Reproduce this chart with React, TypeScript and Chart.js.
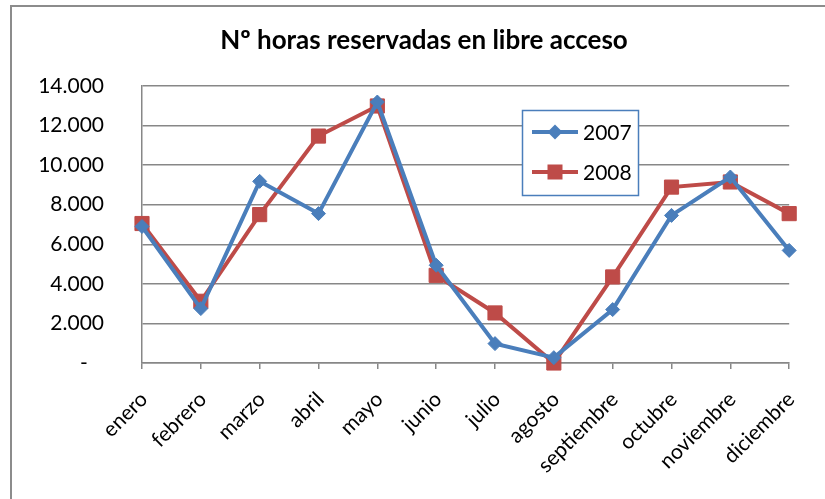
import React, { useEffect, useRef } from "react";
import { Chart, registerables } from "chart.js";

Chart.register(...registerables);

const TITLE = "Nº horas reservadas en libre acceso";
const MONTHS = ["enero", "febrero", "marzo", "abril", "mayo", "junio", "julio", "agosto", "septiembre", "octubre", "noviembre", "diciembre"];
const SERIES_LABELS = ["2007", "2008"];
const SERIES_2007 = [6900, 2750, 9180, 7550, 13190, 4940, 980, 270, 2700, 7460, 9400, 5690];
const SERIES_2008 = [7050, 3120, 7500, 11470, 12990, 4430, 2530, 0, 4350, 8890, 9150, 7550];
const Y_TICK_VALUES = [0, 2000, 4000, 6000, 8000, 10000, 12000, 14000];
const Y_TICK_LABELS = ["-   ", "2.000", "4.000", "6.000", "8.000", "10.000", "12.000", "14.000"];

const BLUE = "#4A7EBB";
const RED = "#BE4B48";
const GRID = "#878787";
const FONT = "Lato, 'Noto Sans', sans-serif";

const titlePlugin = {
  id: "centeredTitle",
  afterDraw(chart: any) {
    const ctx = chart.ctx as CanvasRenderingContext2D;
    ctx.save();
    ctx.fillStyle = "#000";
    ctx.font = `bold 26px ${FONT}`;
    ctx.textAlign = "center";
    ctx.textBaseline = "alphabetic";
    ctx.fillText(TITLE, 424, 49);
    ctx.restore();
  },
};

const insideLegend = {
  id: "insideLegend",
  afterDraw(chart: any) {
    const ctx = chart.ctx as CanvasRenderingContext2D;
    const bx = 522, by = 110, bw = 116, bh = 85;
    ctx.save();
    ctx.fillStyle = "#ffffff";
    ctx.fillRect(bx, by, bw, bh);
    ctx.strokeStyle = BLUE;
    ctx.lineWidth = 1.5;
    ctx.strokeRect(bx + 0.5, by + 0.5, bw, bh);
    chart.data.datasets.forEach((ds: any, i: number) => {
      const cy = by + 22 + i * 40;
      ctx.strokeStyle = ds.borderColor;
      ctx.lineWidth = 4;
      ctx.beginPath();
      ctx.moveTo(bx + 10, cy);
      ctx.lineTo(bx + 56, cy);
      ctx.stroke();
      ctx.fillStyle = ds.backgroundColor;
      const mx = bx + 33;
      if (ds.pointStyle === "rectRot") {
        const r = 7.5;
        ctx.beginPath();
        ctx.moveTo(mx, cy - r);
        ctx.lineTo(mx + r, cy);
        ctx.lineTo(mx, cy + r);
        ctx.lineTo(mx - r, cy);
        ctx.closePath();
        ctx.fill();
      } else {
        const s = 15;
        ctx.fillRect(mx - s / 2, cy - s / 2, s, s);
      }
      ctx.fillStyle = "#000";
      ctx.font = `21px ${FONT}`;
      ctx.textAlign = "left";
      ctx.textBaseline = "middle";
      ctx.fillText(ds.label, bx + 61, cy + 1);
    });
    ctx.restore();
  },
};

export default function App() {
  const ref = useRef<HTMLCanvasElement>(null);
  useEffect(() => {
    if (!ref.current) return;
    const chart = new Chart(ref.current, {
      type: "line",
      data: {
        labels: MONTHS,
        datasets: [
          {
            label: SERIES_LABELS[0],
            data: SERIES_2007,
            borderColor: BLUE,
            backgroundColor: BLUE,
            borderWidth: 4,
            pointStyle: "rectRot",
            pointRadius: 7,
            pointBorderWidth: 1,
            tension: 0,
            clip: false,
          },
          {
            label: SERIES_LABELS[1],
            data: SERIES_2008,
            borderColor: RED,
            backgroundColor: RED,
            borderWidth: 4,
            pointStyle: "rect",
            pointRadius: 10,
            pointBorderWidth: 1,
            tension: 0,
            clip: false,
          },
        ],
      },
      options: {
        animation: false,
        responsive: false,
        devicePixelRatio: 1,
        layout: { padding: { left: 0, right: 30, top: 86, bottom: 0 } },
        plugins: {
          legend: { display: false },
          tooltip: { enabled: false },
          title: { display: false },
        },
        scales: {
          x: {
            type: "category",
            offset: false,
            grid: { display: true, drawOnChartArea: false, drawTicks: true, tickLength: 6, color: GRID, lineWidth: 1.5 },
            border: { display: true, color: GRID, width: 1.5 },
            ticks: {
              autoSkip: false,
              minRotation: 45,
              maxRotation: 45,
              color: "#000",
              font: { family: FONT, size: 21 },
              padding: 18,
              labelOffset: 2,
            },
            afterFit: (scale: any) => {
              scale.height = 136;
            },
          },
          y: {
            min: 0,
            max: 14000,
            afterBuildTicks: (scale: any) => {
              scale.ticks = Y_TICK_VALUES.map((v) => ({ value: v }));
            },
            grid: { display: true, drawTicks: false, color: GRID, lineWidth: 1.5 },
            border: { display: true, color: GRID, width: 1.5 },
            ticks: {
              color: "#000",
              font: { family: FONT, size: 21 },
              padding: 38,
              callback: (v: any) => {
                const i = Y_TICK_VALUES.indexOf(Number(v));
                return i >= 0 ? Y_TICK_LABELS[i] : "";
              },
            },
            afterFit: (scale: any) => {
              scale.width = 142;
            },
          },
        },
      },
      plugins: [insideLegend, titlePlugin],
    });
    return () => chart.destroy();
  }, []);

  return (
    <div style={{ position: "fixed", left: 0, top: 0, width: 825, height: 499, overflow: "hidden", background: "#fff" }}>
      <div style={{ position: "absolute", left: 10, top: 5, width: 900, height: 600, border: "2px solid #8c8c8c" }} />
      <canvas ref={ref} width={825} height={499} style={{ position: "absolute", left: 0, top: 0, width: 825, height: 499 }} />
    </div>
  );
}
